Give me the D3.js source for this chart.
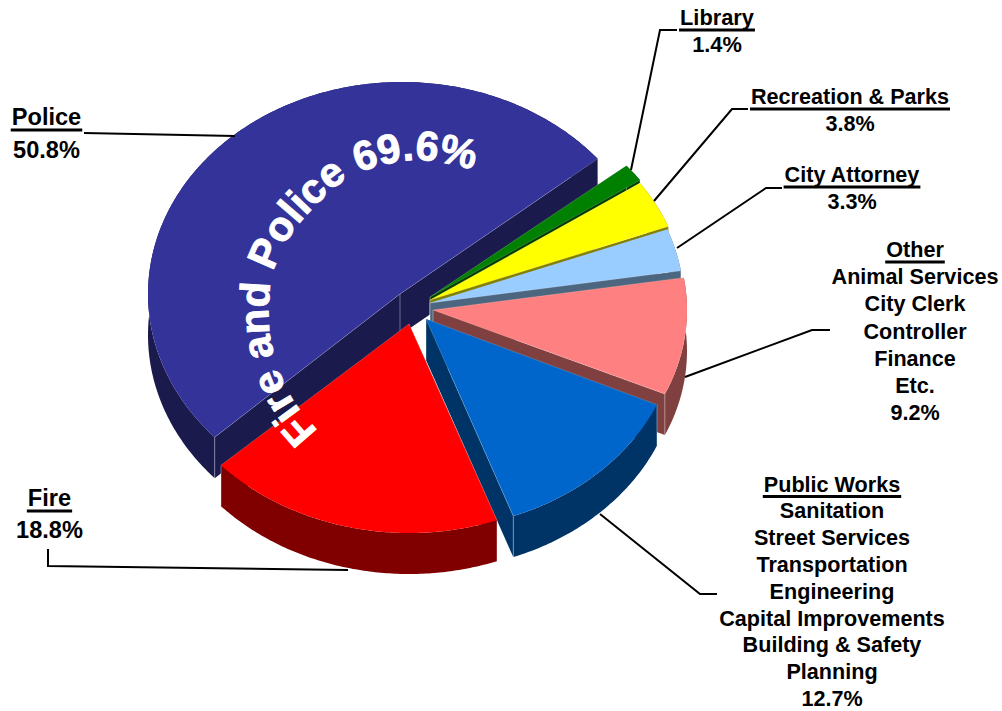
<!DOCTYPE html>
<html>
<head>
<meta charset="utf-8">
<script src="https://cdnjs.cloudflare.com/ajax/libs/d3/7.8.5/d3.min.js"></script>
<style>
  html, body { margin: 0; padding: 0; background: #fff; }
  svg { display: block; }
  text { font-family: "Liberation Sans", Arial, sans-serif; font-weight: bold; fill: #000; }
</style>
</head>
<body>
<svg id="chart" width="1002" height="711"></svg>
<script>
// Share of the general fund by department, in percent
const departments = ["Police", "Library", "Recreation & Parks", "City Attorney", "Other", "Public Works", "Fire"];
const shares = [50.8, 1.4, 3.8, 3.3, 9.2, 12.7, 18.8];
const topColors = ["#333399", "#008000", "#FFFF00", "#99CCFF", "#FF8080", "#0066CC", "#FF0000"];
const wallColors = ["#1A1A4D", "#004000", "#808000", "#4D6680", "#804040", "#003366", "#800000"];

// Apex of each exploded wedge, and the ellipse its rim follows
const apexX = [400, 430, 430, 430, 433, 426, 409];
const apexY = [294, 297, 300, 303, 310, 319, 324];
const rimX = [402, 430, 430, 430, 433, 426, 409];
const rimY = [294, 297, 300, 303, 310, 319, 324];
const radiiX = [254, 255, 255, 254, 254, 253, 255];
const radiiY = [212, 206, 206, 206, 206, 210, 209];
const depth = 41;

// Sub-items listed under each heading
const otherItems = ["Animal Services", "City Clerk", "Controller", "Finance", "Etc."];
const worksItems = ["Sanitation", "Street Services", "Transportation", "Engineering",
  "Capital Improvements", "Building & Safety", "Planning"];

const svg = d3.select("#chart");
const line = d3.line();

const wedges = d3.pie().sort(null).startAngle(227.5 * Math.PI / 180)
  .endAngle((227.5 + 360) * Math.PI / 180)(shares);

// Points along a wedge's rim, dropped by dz below the top face
function rim(d, i, dz) {
  const n = Math.max(2, Math.ceil((d.endAngle - d.startAngle) * 90));
  return d3.range(n + 1).map(k => {
    const a = d.startAngle + (d.endAngle - d.startAngle) * k / n;
    return [rimX[i] + radiiX[i] * Math.sin(a), rimY[i] - radiiY[i] * Math.cos(a) + dz];
  });
}

const slices = svg.append("g").selectAll("g").data(wedges).join("g");

slices.each(function (d, i) {
  const g = d3.select(this);
  const top = rim(d, i, 0), bottom = rim(d, i, depth);
  const first = 0, last = top.length - 1;
  const apex = [apexX[i], apexY[i]], apexLow = [apexX[i], apexY[i] + depth];
  const faces = [
    [apex, top[first], bottom[first], apexLow],
    [apex, top[last], bottom[last], apexLow]
  ];
  g.selectAll("path.face").data(faces).join("path").attr("class", "face")
    .attr("d", p => line(p) + "Z").attr("fill", wallColors[i]);
  g.append("path").attr("d", line(top.concat(bottom.slice().reverse())) + "Z")
    .attr("fill", wallColors[i]);
  // Pale seam down the exposed corners of the solid
  [[apex, apexLow], [top[first], bottom[first]], [top[last], bottom[last]]].forEach(s => {
    g.append("path").attr("d", line(s)).attr("stroke", "#fff").attr("stroke-opacity", 0.35)
      .attr("stroke-width", 1).attr("fill", "none");
  });
  g.append("path").attr("d", line([apex].concat(top)) + "Z").attr("fill", topColors[i]);
  // Thin highlight along the cut edges of the top face
  [[apex, top[first]], [apex, top[last]]].forEach(s => {
    g.append("path").attr("d", line(s)).attr("stroke", "#fff").attr("stroke-opacity", 0.25)
      .attr("stroke-width", 0.8).attr("fill", "none");
  });
});

// Leader lines from each wedge to its label
const leaders = [
  [[84, 133], [235, 136]],
  [[677, 30], [660, 30], [631, 170]],
  [[748, 109], [732, 109], [654, 201]],
  [[782, 188], [766, 188], [677, 248]],
  [[830, 330], [812, 330], [685, 377]],
  [[717, 594], [700, 594], [600, 514]],
  [[48, 549], [48, 566], [348, 570]]
];
svg.append("g").selectAll("path").data(leaders).join("path")
  .attr("d", line).attr("fill", "none").attr("stroke", "#000").attr("stroke-width", 2);

// Underlined heading with its detail lines and percentage on one centre line
function label(cx, y0, title, items, gap, size) {
  const head = svg.append("text").attr("text-anchor", "middle").attr("font-size", size)
    .attr("x", cx).attr("y", y0).text(title);
  const w = head.node().getComputedTextLength();
  svg.append("path").attr("d", line([[cx - w / 2 - 1, y0 + 5], [cx + w / 2 + 1, y0 + 5]]))
    .attr("stroke", "#000").attr("stroke-width", 3);
  const body = svg.append("text").attr("text-anchor", "middle").attr("font-size", size);
  items.forEach((s, k) => {
    body.append("tspan").attr("x", cx).attr("y", y0 + gap + k * gap).text(s);
  });
}
const pct = v => v.toFixed(1) + "%";
label(46.5, 125, departments[0], [pct(shares[0])], 33, 23.6);
label(717, 25, departments[1], [pct(shares[1])], 27, 21.8);
label(850, 104, departments[2], [pct(shares[2])], 27, 21.6);
label(852, 182, departments[3], [pct(shares[3])], 27, 21.6);
label(915, 257, departments[4], otherItems.concat(pct(shares[4])), 27.2, 21.6);
label(832, 491.5, departments[5], worksItems.concat(pct(shares[5])), 26.8, 21.6);
label(49.5, 506, departments[6], [pct(shares[6])], 32, 23.6);

// Combined figure running around the top of the pie
const curve = d3.line().curve(d3.curveCatmullRom.alpha(0.5))([
  [318, 431], [300, 410], [287, 390], [277, 365], [270, 335], [269, 300], [273, 272],
  [292, 233], [318, 203], [345, 180], [375, 167], [420, 160], [482, 172]
]);
svg.append("defs").append("path").attr("id", "arcText").attr("d", curve);
svg.append("text").attr("font-size", 41.5).style("fill", "#fff")
  .attr("stroke", "#fff").attr("stroke-width", 0.9)
  .append("textPath").attr("href", "#arcText").attr("startOffset", 0)
  .text("Fire and Police " + pct(shares[0] + shares[6]));
</script>
</body>
</html>
